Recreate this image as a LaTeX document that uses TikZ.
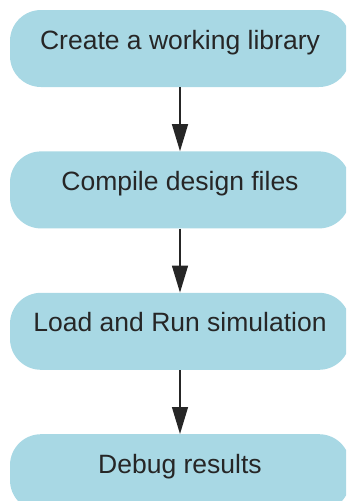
\documentclass[tikz,border=0pt]{standalone}
\usepackage{fontspec}
\setmainfont{Liberation Sans}
\usetikzlibrary{positioning}
\usetikzlibrary{arrows.meta}
\definecolor{stageblue}{RGB}{168,216,228}
\tikzstyle{stage}=[rectangle, rounded corners=31pt, fill=stageblue, draw=none, minimum width=340pt, inner sep=0pt, text height=39pt, text depth=38pt, font=\fontsize{26.5}{30}\selectfont, text=black!85]

\begin{document}
\begin{tikzpicture}[x=1pt, y=1pt, >={Triangle[width=16pt,length=27pt]}, node distance = 64pt]
	\clip (0,0) rectangle (346,-501);
	\node (lib) at (180,-48.5) [stage] {Create a working library};
	\node (comp) [stage, below=of lib] {Compile design files};
	\node (sim) [stage, below=of comp] {Load and Run simulation};
	\node (dbg) [stage, below=of sim] {Debug results};
	\path[->, line width=1.3pt, black!85]
		(lib) edge (comp)
		(comp) edge (sim)
		(sim) edge (dbg);
\end{tikzpicture}
\end{document}
